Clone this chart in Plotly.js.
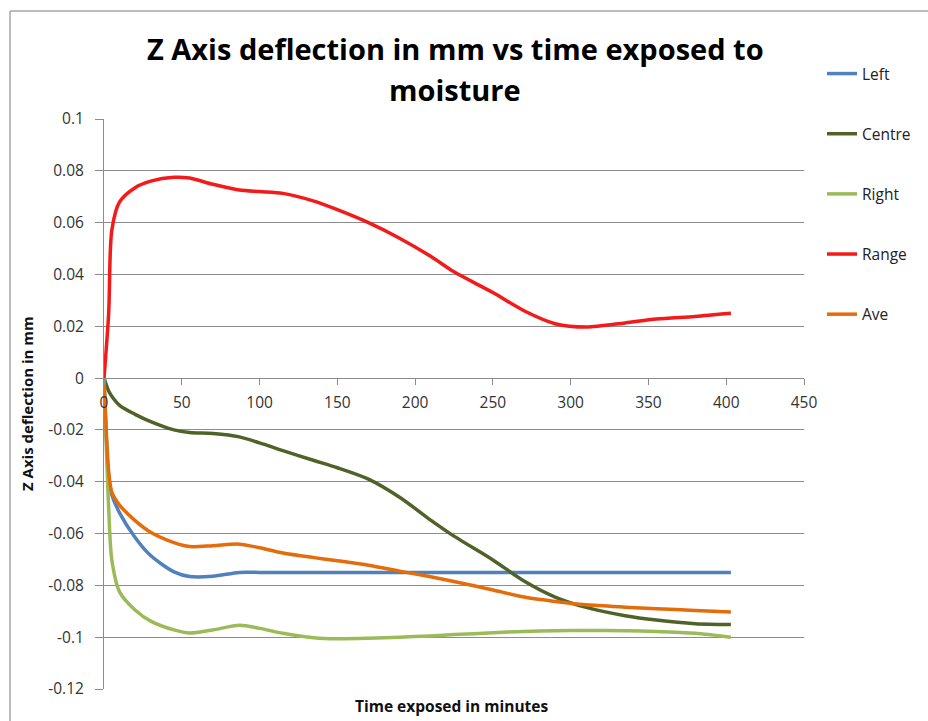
<!DOCTYPE html>
<html><head><meta charset="utf-8">
<script src="https://cdn.plot.ly/plotly-3.0.1.min.js"></script>
<style>html,body{margin:0;padding:0;background:#fff}#chart{width:928px;height:721px}</style>
</head><body><div id="chart"></div>
<script>
// Time exposed in minutes
const times  = [0, 3, 5, 10, 20, 30, 45, 55, 70, 87, 100, 115, 135, 150, 170, 190, 210, 225, 250, 270, 290, 310, 335, 355, 380, 403];
// Z axis deflection in mm
const left   = [0, -0.038, -0.045, -0.052, -0.0615, -0.0685, -0.0748, -0.0766, -0.0765, -0.075, -0.075, -0.075, -0.075, -0.075, -0.075, -0.075, -0.075, -0.075, -0.075, -0.075, -0.075, -0.075, -0.075, -0.075, -0.075, -0.075];
const centre = [0, -0.005, -0.007, -0.0105, -0.014, -0.0168, -0.020, -0.021, -0.0214, -0.0227, -0.025, -0.028, -0.0318, -0.0346, -0.039, -0.046, -0.0548, -0.061, -0.0702, -0.0783, -0.0845, -0.0885, -0.0917, -0.0934, -0.0948, -0.0951];
const right  = [0, -0.05, -0.07, -0.0825, -0.0895, -0.0938, -0.0972, -0.0984, -0.0972, -0.0954, -0.0966, -0.0985, -0.1002, -0.1006, -0.1004, -0.1, -0.0995, -0.099, -0.0983, -0.0978, -0.0975, -0.0974, -0.0975, -0.0978, -0.0985, -0.1];
const range  = [0, 0.025, 0.057, 0.068, 0.0735, 0.076, 0.0775, 0.0772, 0.0748, 0.0726, 0.072, 0.0713, 0.0683, 0.065, 0.060, 0.054, 0.047, 0.041, 0.033, 0.026, 0.021, 0.0197, 0.0213, 0.0228, 0.0238, 0.025];
const ave    = [0, -0.036, -0.044, -0.049, -0.055, -0.0595, -0.0635, -0.065, -0.0647, -0.0641, -0.0655, -0.0675, -0.0693, -0.0705, -0.0722, -0.0745, -0.0767, -0.0785, -0.0818, -0.0845, -0.0862, -0.0875, -0.0884, -0.089, -0.0897, -0.0903];

const seriesNames  = ['Left', 'Centre', 'Right', 'Range', 'Ave'];
const seriesValues = [left, centre, right, range, ave];
const seriesColors = ['#4F81BD', '#4F6228', '#9BBB59', '#F51A1A', '#E46C0A'];

const xTickVals = [0, 50, 100, 150, 200, 250, 300, 350, 400, 450];
const yTickVals = [0.1, 0.08, 0.06, 0.04, 0.02, 0, -0.02, -0.04, -0.06, -0.08, -0.1, -0.12];
const yTickText = ['0.1', '0.08', '0.06', '0.04', '0.02', '0', '-0.02', '-0.04', '-0.06', '-0.08', '-0.1', '-0.12'];

const titleLines = ['Z Axis deflection in mm vs time exposed to', 'moisture'];
const xTitle = 'Time exposed in minutes';
const yTitle = 'Z Axis deflection in mm';

const FONT = '"Open Sans", Lato, sans-serif';
const GRID = '#8c8c8c';

const traces = seriesNames.map((n, i) => ({
  type: 'scatter', mode: 'lines', name: n, legendgroup: n,
  x: times, y: seriesValues[i],
  line: {color: seriesColors[i], width: 3.5, shape: 'spline', smoothing: 0.8},
  hoverinfo: 'skip'
}));

// plot area: x 104..804, y 119..689
const W = 928, H = 721, L = 104, R = 124, T = 119, B = 32;
const pw = W - L - R, ph = H - T - B;
const px = x => (x - L) / pw;
const py = y => 1 - (y - T) / ph;

const layout = {
  width: W, height: H,
  margin: {l: L, r: R, t: T, b: B, pad: 0},
  paper_bgcolor: '#fff', plot_bgcolor: '#fff',
  showlegend: true,
  legend: {
    x: px(822), y: py(57), xanchor: 'left', yanchor: 'top',
    font: {family: FONT, size: 15.5, color: '#222'},
    tracegroupgap: 37, bgcolor: 'rgba(0,0,0,0)'
  },
  xaxis: {
    range: [0, 450], tickvals: xTickVals,
    anchor: 'free', position: 0.12 / 0.22,
    showline: true, linecolor: GRID, linewidth: 1,
    ticks: 'outside', ticklen: 6, tickcolor: GRID,
    showgrid: false, zeroline: false,
    tickfont: {family: FONT, size: 15.5, color: '#333'},
    ticklabelstandoff: 4, fixedrange: true
  },
  yaxis: {
    range: [-0.12, 0.1], tickvals: yTickVals, ticktext: yTickText,
    showgrid: true, gridcolor: GRID, gridwidth: 1,
    showline: true, linecolor: GRID, linewidth: 1,
    ticks: 'outside', ticklen: 8, tickcolor: GRID,
    zeroline: false,
    tickfont: {family: FONT, size: 15.5, color: '#333'},
    ticklabelstandoff: 8, fixedrange: true
  },
  annotations: [
    {text: '<b>' + titleLines[0] + '</b>', xref: 'paper', yref: 'paper', x: px(455), y: py(48),
     showarrow: false, xanchor: 'center', yanchor: 'middle', font: {family: FONT, size: 29, color: '#000'}},
    {text: '<b>' + titleLines[1] + '</b>', xref: 'paper', yref: 'paper', x: px(455), y: py(89),
     showarrow: false, xanchor: 'center', yanchor: 'middle', font: {family: FONT, size: 29, color: '#000'}},
    {text: '<b>' + xTitle + '</b>', xref: 'paper', yref: 'paper', x: px(451), y: py(706),
     showarrow: false, xanchor: 'center', yanchor: 'middle', font: {family: FONT, size: 15.5, color: '#111'}},
    {text: '<b>' + yTitle + '</b>', xref: 'paper', yref: 'paper', x: px(27), y: py(404),
     showarrow: false, textangle: -90, xanchor: 'center', yanchor: 'middle', font: {family: FONT, size: 15, color: '#111'}}
  ],
  shapes: [
    {type: 'line', xref: 'paper', yref: 'paper', x0: px(10), x1: px(928), y0: py(11), y1: py(11), line: {color: '#a6a6a6', width: 1.5}},
    {type: 'line', xref: 'paper', yref: 'paper', x0: px(10), x1: px(10), y0: py(11), y1: py(721), line: {color: '#a6a6a6', width: 1.5}}
  ]
};

Plotly.newPlot('chart', traces, layout, {displayModeBar: false, staticPlot: true});
</script>
</body></html>
